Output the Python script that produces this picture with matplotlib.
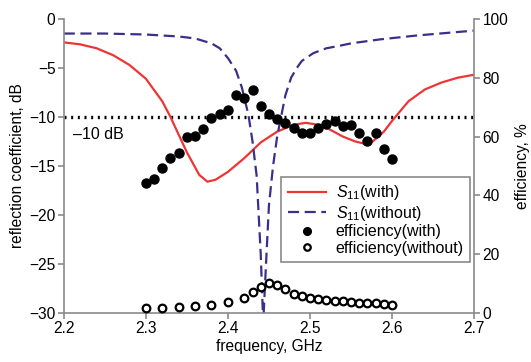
import matplotlib
matplotlib.use("Agg")
import matplotlib.pyplot as plt

plt.rcParams['font.family'] = ['Liberation Sans', 'DejaVu Sans']
plt.rcParams['mathtext.fontset'] = 'custom'
plt.rcParams['mathtext.rm'] = 'Liberation Sans'
plt.rcParams['mathtext.it'] = 'Liberation Sans:italic'
plt.rcParams['font.size'] = 11.2

# S11 s anténou (with)
f_with = [2.20, 2.22, 2.24, 2.26, 2.28, 2.30, 2.32, 2.33, 2.34, 2.35, 2.365, 2.375,
          2.385, 2.40, 2.42, 2.44, 2.46, 2.48, 2.495, 2.51, 2.52, 2.54, 2.555,
          2.565, 2.575, 2.59, 2.60, 2.62, 2.64, 2.66, 2.68, 2.70]
s11_with = [-2.4, -2.6, -3.0, -3.7, -4.7, -6.1, -8.4, -10.0, -11.8, -13.6, -15.9, -16.6,
            -16.4, -15.6, -14.2, -12.6, -11.5, -10.8, -10.6, -10.8, -11.1, -12.0, -12.5,
            -12.7, -12.6, -11.5, -10.4, -8.4, -7.2, -6.5, -6.0, -5.7]

# S11 bez (without)
f_without = [2.20, 2.25, 2.30, 2.34, 2.36, 2.38, 2.39, 2.40, 2.41, 2.417, 2.425, 2.43,
             2.435, 2.44, 2.443, 2.447, 2.45, 2.455, 2.46, 2.47, 2.477, 2.484, 2.49,
             2.504, 2.52, 2.533, 2.55, 2.585, 2.63, 2.70]
s11_without = [-1.5, -1.5, -1.6, -1.8, -2.0, -2.5, -3.0, -4.0, -5.3, -7.0, -9.8, -12.5,
               -16.0, -24.0, -31.0, -24.0, -19.0, -15.0, -12.0, -7.8, -6.0, -5.0, -4.3,
               -3.5, -3.0, -2.8, -2.5, -2.1, -1.7, -1.2]

# účinnost (efficiency)
f_eff_with = [2.30 + 0.01 * i for i in range(31)]
eff_with = [44.3, 45.6, 49.2, 52.8, 54.5, 59.7, 60.2, 62.5, 66.2, 67.6, 69.0,
            74.1, 73.0, 75.9, 70.4, 67.6, 66.0, 64.7, 62.8, 61.1, 61.3,
            62.8, 64.2, 65.4, 63.6, 63.9, 61.3, 58.6, 61.1, 55.7, 52.3]

f_eff_without = [2.30, 2.32, 2.34, 2.36, 2.38, 2.40, 2.42, 2.43, 2.44, 2.45, 2.46,
                 2.47, 2.48, 2.49, 2.50, 2.51, 2.52, 2.53, 2.54, 2.55, 2.56,
                 2.57, 2.58, 2.59, 2.60]
eff_without = [1.8, 1.9, 2.2, 2.4, 2.9, 3.9, 5.3, 7.3, 9.0, 10.3, 9.5,
               8.2, 6.5, 5.9, 5.3, 4.8, 4.4, 4.2, 4.1, 3.9, 3.6,
               3.5, 3.3, 3.1, 2.7]

grey = '#8a8a8a'

fig = plt.figure(figsize=(5.31, 3.62), dpi=100)
ax1 = fig.add_axes([0.12, 0.135, 0.773, 0.813])
ax2 = ax1.twinx()

ax1.axhline(-10, color='black', linestyle=(0, (0.6, 1.4)), linewidth=2.4, zorder=2)
l1, = ax1.plot(f_with, s11_with, color='#ee3535', linewidth=1.6, label='$S_{11}$(with)')
l2, = ax1.plot(f_without, s11_without, color='#3b2f8c', linewidth=1.6,
               linestyle=(0, (5, 2.5)), label='$S_{11}$(without)')
ax1.text(2.211, -11.8, '\u201310 dB', ha='left', va='center', fontsize=11.5)

l3, = ax2.plot(f_eff_with, eff_with, 'o', color='black', markersize=6.5,
               linestyle='none', label='efficiency(with)')
l4, = ax2.plot(f_eff_without, eff_without, 'o', markerfacecolor='white',
               markeredgecolor='black', markersize=5.5, markeredgewidth=1.6,
               linestyle='none', label='efficiency(without)')

ax1.set_xlim(2.2, 2.7)
ax1.set_ylim(-30, 0)
ax2.set_ylim(0, 100)
ax1.set_xticks([2.2, 2.3, 2.4, 2.5, 2.6, 2.7])
ax1.set_xticklabels(['2.2', '2.3', '2.4', '2.5', '2.6', '2.7'])
ax1.set_yticks([0, -5, -10, -15, -20, -25, -30])
ax1.set_yticklabels(['0', '\u22125', '\u221210', '\u221215', '\u221220', '\u221225', '\u221230'])
ax2.set_yticks([0, 20, 40, 60, 80, 100])

ax1.set_xlabel('frequency, GHz', labelpad=2)
ax1.set_ylabel('reflection coefficient, dB', labelpad=3)
ax2.set_ylabel('efficiency, %', labelpad=5)

for ax in (ax1, ax2):
    ax.spines['top'].set_visible(False)
    for s in ('left', 'right', 'bottom'):
        ax.spines[s].set_color(grey)
        ax.spines[s].set_linewidth(1.2)
    ax.tick_params(color=grey, length=4, width=1.2, pad=2)
ax1.spines['right'].set_visible(False)
ax2.spines['left'].set_visible(False)
ax2.spines['bottom'].set_visible(False)

leg = ax2.legend(handles=[l1, l2, l3, l4], loc='upper right',
                 bbox_to_anchor=(0.99, 0.463), borderaxespad=0, fancybox=False,
                 framealpha=1, edgecolor=grey, fontsize=11.5, handlelength=2.4,
                 markerscale=0.85, borderpad=0.4, labelspacing=0.1,
                 handletextpad=0.6)
leg.get_frame().set_linewidth(1.2)

fig.savefig('out.png', dpi=100)
